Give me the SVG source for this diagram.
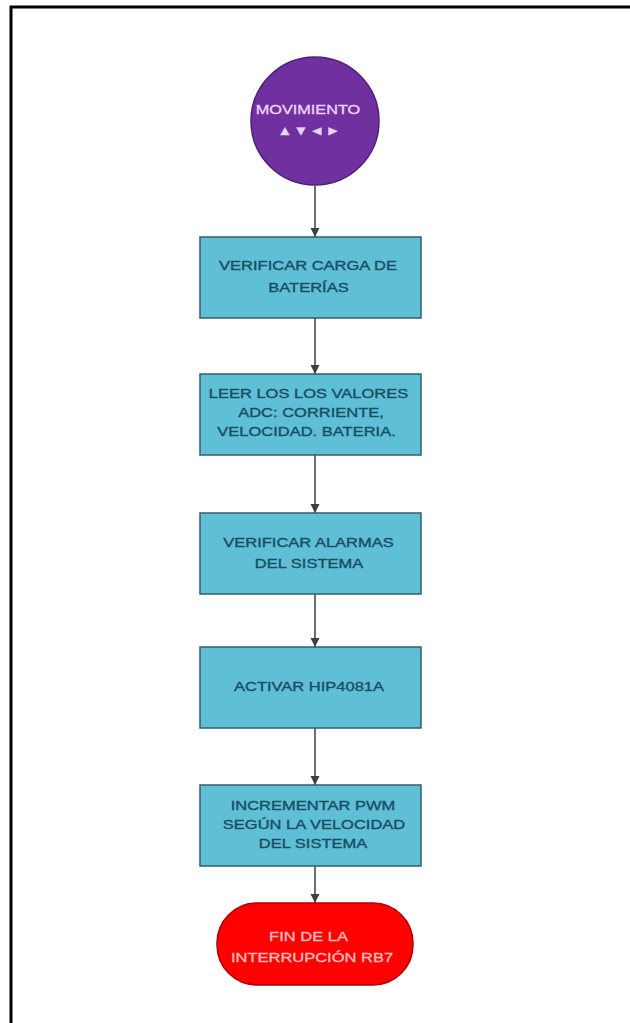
<svg xmlns="http://www.w3.org/2000/svg" width="630" height="1023" viewBox="0 0 630 1023">
<style>
.box{fill:#5ebfd6;stroke:#2f5f6f;stroke-width:1.5}
.t{font-family:"Liberation Sans",Arial,sans-serif;font-size:13px;text-anchor:middle;stroke-width:0.35}
.bt{fill:#1a4d63;stroke:#1a4d63}
.pt{fill:#e8d4f4;stroke:#e8d4f4}
.rt{fill:#ffbcbc;stroke:#ffbcbc}
.conn{stroke:#404040;stroke-width:1.5;fill:none}
</style>
<defs>
<marker id="ah" markerWidth="10" markerHeight="10" refX="9" refY="5" orient="auto" markerUnits="userSpaceOnUse">
<path d="M0,0.5 L9,5 L0,9.5 Z" fill="#404040"/>
</marker>
</defs>
<rect width="630" height="1023" fill="#ffffff"/>
<path d="M11,1023 L11,7 L630,7" fill="none" stroke="#000" stroke-width="3"/>
<g id="connectors">
<line class="conn" x1="315" y1="186" x2="315" y2="237" marker-end="url(#ah)"/>
<line class="conn" x1="315" y1="318" x2="315" y2="374" marker-end="url(#ah)"/>
<line class="conn" x1="315" y1="455" x2="315" y2="513" marker-end="url(#ah)"/>
<line class="conn" x1="315" y1="594" x2="315" y2="647" marker-end="url(#ah)"/>
<line class="conn" x1="315" y1="728" x2="315" y2="785" marker-end="url(#ah)"/>
<line class="conn" x1="315" y1="866" x2="315" y2="903" marker-end="url(#ah)"/>
</g>
<g id="start">
<circle cx="315" cy="121" r="64" fill="#7030a0" stroke="#4e2075" stroke-width="1.5"/>
<text class="t pt" transform="translate(308,114) scale(1.25,1)">MOVIMIENTO</text>
<text class="t pt" transform="translate(309.5,135) scale(1.15,1)" font-size="14" letter-spacing="1">▲▼◄►</text>
</g>
<g id="n1">
<rect class="box" x="200" y="237" width="221" height="81"/>
<text class="t bt" transform="translate(308,270) scale(1.27,1)">VERIFICAR CARGA DE</text>
<text class="t bt" transform="translate(308.5,292) scale(1.27,1)">BATERÍAS</text>
</g>
<g id="n2">
<rect class="box" x="200" y="374" width="221" height="81"/>
<text class="t bt" transform="translate(308.5,398) scale(1.27,1)">LEER LOS LOS VALORES</text>
<text class="t bt" transform="translate(311,417) scale(1.27,1)">ADC: CORRIENTE,</text>
<text class="t bt" transform="translate(306.5,436) scale(1.27,1)">VELOCIDAD. BATERIA.</text>
</g>
<g id="n3">
<rect class="box" x="200" y="513" width="221" height="81"/>
<text class="t bt" transform="translate(308.5,547) scale(1.27,1)">VERIFICAR ALARMAS</text>
<text class="t bt" transform="translate(309,568) scale(1.27,1)">DEL SISTEMA</text>
</g>
<g id="n4">
<rect class="box" x="200" y="647" width="221" height="81"/>
<text class="t bt" transform="translate(309,691) scale(1.27,1)">ACTIVAR HIP4081A</text>
</g>
<g id="n5">
<rect class="box" x="200" y="785" width="221" height="81"/>
<text class="t bt" transform="translate(313,810) scale(1.27,1)">INCREMENTAR PWM</text>
<text class="t bt" transform="translate(314,829) scale(1.27,1)">SEGÚN LA VELOCIDAD</text>
<text class="t bt" transform="translate(313,848) scale(1.27,1)">DEL SISTEMA</text>
</g>
<g id="end">
<rect x="217" y="903" width="196" height="82" rx="40" ry="40" fill="#ff0000" stroke="#b00000" stroke-width="1.5"/>
<text class="t rt" transform="translate(308.5,941) scale(1.27,1)">FIN DE LA</text>
<text class="t rt" transform="translate(312,962) scale(1.27,1)">INTERRUPCIÓN RB7</text>
</g>
</svg>
